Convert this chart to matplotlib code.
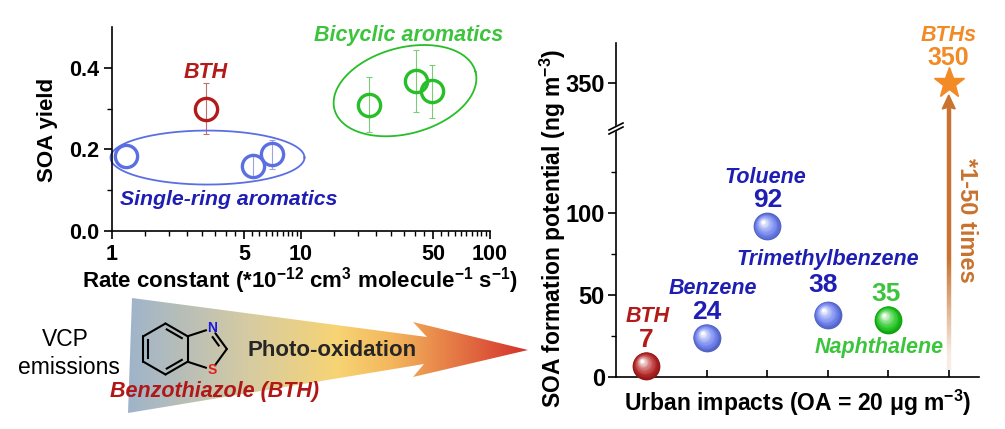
import numpy as np
import matplotlib
matplotlib.use("Agg")
import matplotlib.pyplot as plt
from matplotlib.patches import Polygon
from matplotlib.colors import LinearSegmentedColormap, to_rgb
from matplotlib.collections import LineCollection
from matplotlib.ticker import FixedLocator, NullFormatter, FixedFormatter
import matplotlib.transforms as mtransforms

plt.rcParams['font.family'] = ['Liberation Sans', 'DejaVu Sans']
plt.rcParams['font.weight'] = 'bold'
plt.rcParams['axes.labelweight'] = 'bold'
plt.rcParams['mathtext.default'] = 'regular'

# Daten links: SOA-Ausbeute vs. Geschwindigkeitskonstante
btH_rate = [3.13]
btH_yield = [0.30]
btH_err = [0.063]
single_rate = [1.19, 5.6, 7.0]
single_yield = [0.183, 0.159, 0.188]
single_err = [0.0, 0.027, 0.035]
bicyc_rate = [23.0, 40.6, 49.3]
bicyc_yield = [0.310, 0.367, 0.342]
bicyc_err = [0.067, 0.076, 0.066]

# Daten rechts: SOA-Bildungspotential
species = ['BTH', 'Benzene', 'Toluene', 'Trimethylbenzene', 'Naphthalene', 'BTHs']
sofp = [7, 24, 92, 38, 35, 350]
species_x = [1, 2, 3, 4, 5, 6]

RED = '#B31B1B'
BLUE_M = '#5B6FE3'
BLUE_T = '#1E1EB4'
GREEN_M = '#27BE27'
GREEN_T = '#3CC43C'
ORANGE = '#F28A26'
BROWN = '#C8732F'

W, H = 1005, 429
fig = plt.figure(figsize=(W / 100, H / 100), dpi=100)


def px_rect(x0, y0, x1, y1):
    return [x0 / W, 1 - y1 / H, (x1 - x0) / W, (y1 - y0) / H]


# ---------------- linker Plot ----------------
ax = fig.add_axes(px_rect(112, 27, 490, 231))
ax.set_xscale('log')
ax.set_xlim(1, 100)
ax.set_ylim(0, 0.5)
ax.spines[['top', 'right']].set_visible(False)
for s in ['left', 'bottom']:
    ax.spines[s].set_linewidth(1.2)
major_x = [1, 5, 10, 50, 100]
minor_x = [v for v in list(np.arange(1.5, 10, 0.5)) + list(np.arange(15, 100, 5)) if v not in major_x]
ax.xaxis.set_major_locator(FixedLocator(major_x))
ax.xaxis.set_major_formatter(FixedFormatter([str(v) for v in major_x]))
ax.xaxis.set_minor_locator(FixedLocator(minor_x))
ax.xaxis.set_minor_formatter(NullFormatter())
ax.set_yticks([0.0, 0.2, 0.4])
ax.set_yticklabels(['0.0', '0.2', '0.4'])
ax.set_yticks([0.1, 0.3], minor=True)
ax.tick_params(which='major', length=6, width=1.2, labelsize=15.5, pad=3)
ax.tick_params(which='minor', length=3.5, width=1.0)
fig.text(300 / W, 1 - 288 / H, 'Rate constant (*10$^{-12}$ cm$^{3}$ molecule$^{-1}$ s$^{-1}$)',
         fontsize=16, ha='center', va='baseline')
fig.text(47 / W, 1 - 130 / H, 'SOA yield', rotation=90, fontsize=16, ha='center', va='center')

ms = 16
for rx, ry, re, col, ecol in [(btH_rate, btH_yield, btH_err, RED, '#C07070'),
                              (single_rate, single_yield, single_err, BLUE_M, '#9AA5E8'),
                              (bicyc_rate, bicyc_yield, bicyc_err, GREEN_M, '#7ACC7A')]:
    rx, ry, re = np.array(rx), np.array(ry), np.array(re)
    has = re > 0
    ax.errorbar(rx[has], ry[has], yerr=re[has], fmt='none', ecolor=ecol, elinewidth=0.8,
                capsize=2.5, capthick=0.8)
    ax.plot(rx, ry, 'o', ms=ms, mfc='none', mec=col, mew=2.4)


def ring(ax, cx, cy, a, b, ang, color):
    # Ellipse in Pixeln um einen Datenpunkt
    t = np.linspace(0, 2 * np.pi, 200)
    th = np.deg2rad(ang)
    dx = a * np.cos(t) * np.cos(th) - b * np.sin(t) * np.sin(th)
    dy = a * np.cos(t) * np.sin(th) + b * np.sin(t) * np.cos(th)
    c = ax.transData.transform((cx, cy))
    pts = ax.transAxes.inverted().transform(np.column_stack([c[0] + dx, c[1] + dy]))
    ax.plot(pts[:, 0], pts[:, 1], color=color, lw=1.3, transform=ax.transAxes, clip_on=False)


ring(ax, 3.2, 0.18, 97, 27, 0, BLUE_M)
ring(ax, 35.5, 0.344, 73, 43, 15, GREEN_M)

ax.text(3.13, 0.388, 'BTH', color=RED, fontsize=15.5, style='italic', ha='center', va='center')
ax.text(4.16, 0.076, 'Single-ring aromatics', color=BLUE_T, fontsize=15.3, style='italic',
        ha='center', va='center')
ax.text(37, 0.48, 'Bicyclic aromatics', color=GREEN_T, fontsize=15.5, style='italic',
        ha='center', va='center', clip_on=False)

# ---------------- rechter Plot (gebrochene Achse) ----------------
px_per_unit = 1.637
axb = fig.add_axes(px_rect(616, 128, 979, 377))
axt = fig.add_axes(px_rect(616, 43, 979, 128))
axb.set_ylim(0, 249 / px_per_unit)
axt.set_ylim(350 - 45 / px_per_unit, 350 + 40 / px_per_unit)
for a_ in (axb, axt):
    a_.set_xlim(0.5, 6.5)
    a_.spines[['top', 'right']].set_visible(False)
    a_.spines['left'].set_linewidth(1.2)
    a_.patch.set_alpha(0)
axt.spines['bottom'].set_visible(False)
axb.spines['bottom'].set_linewidth(1.2)
axt.set_xticks([])
axt.set_yticks([350])
axb.set_xticks(species_x)
axb.set_xticklabels([])
axb.set_yticks([0, 50, 100])
axb.set_yticks([25, 75, 125], minor=True)
axb.tick_params(axis='x', direction='in', length=5, width=1.2)
for a_ in (axb, axt):
    a_.tick_params(axis='y', which='major', length=6, width=1.2, labelsize=17, pad=2)
    a_.tick_params(axis='y', which='minor', length=3.5, width=1.0)


def ball(ax, x, y, base, n=18, d=20):
    base = np.array(to_rgb(base))
    edge = base * 0.82
    hx, hy = -3.2, 3.4
    for k in range(n):
        t = k / (n - 1)
        col = edge * (1 - min(1, t * 3)) + base * min(1, t * 3)
        w = t ** 1.7
        col = col * (1 - w) + np.ones(3) * w
        size = (d * (1 - 0.9 * t)) ** 2
        tr = mtransforms.offset_copy(ax.transData, fig=fig, x=hx * t, y=hy * t, units='points')
        ax.scatter([x], [y], s=size, color=[col], lw=0, transform=tr, zorder=5 + k * 0.01,
                   clip_on=False)


ball_cols = [RED, '#6479EE', '#6479EE', '#6479EE', '#14C414']
for i in range(5):
    ball(axb, species_x[i], sofp[i], ball_cols[i])

axt.plot(species_x[5], sofp[5], marker='*', ms=23, color=ORANGE, mec=ORANGE, clip_on=False, zorder=6)

name_cols = [RED, BLUE_T, BLUE_T, BLUE_T, GREEN_T]
name_dy = [30, 30, 30, 34, -17]
name_dx = [0.03, 0.1, -0.03, 0.0, -0.15]
num_dy = [15.5, 16, 16, 18, 16]
num_dx = [0, 0, 0, -0.08, -0.03]
for i in range(5):
    axb.text(species_x[i] + name_dx[i], sofp[i] + name_dy[i], species[i], color=name_cols[i],
             fontsize=15.5, style='italic', ha='center', va='center', clip_on=False)
    axb.text(species_x[i] + num_dx[i], sofp[i] + num_dy[i], str(sofp[i]), color=name_cols[i],
             fontsize=19, ha='center', va='center', clip_on=False)
axt.text(species_x[5], sofp[5] + 29, species[5], color=ORANGE, fontsize=15.5, style='italic',
         ha='center', va='center', clip_on=False)
axt.text(species_x[5], sofp[5] + 15, str(sofp[5]), color=ORANGE, fontsize=18,
         ha='center', va='center', clip_on=False)

fig.text(553 / W, 1 - 228 / H, 'SOA formation potential (ng m$^{-3}$)', rotation=90,
         fontsize=16.5, ha='center', va='center')
fig.text(798 / W, 1 - 403 / H, 'Urban impacts (OA = 20 \u03bcg m$^{-3}$)', fontsize=16.5,
         ha='center', va='center')

# ---------------- Overlay in Pixelkoordinaten ----------------
ov = fig.add_axes([0, 0, 1, 1])
ov.set_xlim(0, W)
ov.set_ylim(H, 0)
ov.axis('off')
ov.patch.set_alpha(0)


def to_px(a_, x, y):
    d = a_.transData.transform((x, y))
    return d[0], H - d[1]


# Achsenbruch
bx, by = to_px(axb, 0.5, 249 / px_per_unit)
ov.add_patch(Polygon([[bx - 7, by + 2], [bx + 7, by - 5], [bx + 7, by - 1], [bx - 7, by + 6]],
                     closed=True, color='white', zorder=10))
for off in (2, 6):
    ov.plot([bx - 7, bx + 7], [by + off, by + off - 7], color='black', lw=1.2, zorder=11)

# Pfeil "*1-50 times"
ax6, ay_top = to_px(axt, 6, 350)
_, ay_bot = to_px(axb, 6, 4)
y_head = ay_top + 14
ys = np.linspace(ay_bot, y_head + 10, 80)
segs = [[[ax6, ys[i]], [ax6, ys[i + 1]]] for i in range(len(ys) - 1)]
alph = np.clip((ay_bot - ys[:-1]) / 110, 0.12, 1.0)
cols = [(*to_rgb(BROWN), a_) for a_ in alph]
ov.add_collection(LineCollection(segs, colors=cols, linewidths=3.2, zorder=8))
ov.add_patch(Polygon([[ax6, y_head - 2], [ax6 - 6.5, y_head + 12], [ax6, y_head + 10],
                      [ax6 + 6.5, y_head + 12]], closed=True, color=BROWN, zorder=8))
ov.text(966, 220, '*1-50 times', rotation=-90, color=BROWN, fontsize=17,
        ha='center', va='center')

# Verlaufspfeil unten links
arrow = Polygon([[132, 298], [427, 337], [413, 322], [528, 350], [413, 377], [424, 364],
                 [128, 413]], closed=True, fc='none', ec='none')
ov.add_patch(arrow)
grad = LinearSegmentedColormap.from_list('g', [(0.0, '#9FB4CA'), (0.3, '#D6CBA2'),
                                               (0.52, '#F7D474'), (0.66, '#F3B65C'),
                                               (0.78, '#E8864A'), (1.0, '#D2302A')])
img = ov.imshow(np.linspace(0, 1, 256)[None, :], cmap=grad, aspect='auto',
                extent=(128, 530, 413, 297), zorder=2)
img.set_clip_path(arrow)
ov.set_xlim(0, W)
ov.set_ylim(H, 0)

ov.text(65, 340, 'VCP', fontsize=16.5, fontweight='normal', ha='center', va='center')
ov.text(69, 367, 'emissions', fontsize=16.5, fontweight='normal', ha='center', va='center')
ov.text(332, 350, 'Photo-oxidation', fontsize=16, color='#262626', ha='center', va='center', zorder=5)
ov.text(214, 392, 'Benzothiazole (BTH)', fontsize=15.5, style='italic', color='#B01818',
        ha='center', va='center', zorder=5)

# Benzothiazol-Struktur
cx, cy, r = 165.5, 349, 25.5
angs = np.deg2rad([90, 30, -30, -90, -150, 150])
hexv = np.column_stack([cx + r * np.cos(angs), cy - r * np.sin(angs)])
pc_x = hexv[1, 0] + r / (2 * np.tan(np.deg2rad(36)))
R5 = r / (2 * np.sin(np.deg2rad(36)))
N_pt = np.array([pc_x + R5 * np.cos(np.deg2rad(72)), cy - R5 * np.sin(np.deg2rad(72))])
C2_pt = np.array([pc_x + R5, cy])
S_pt = np.array([pc_x + R5 * np.cos(np.deg2rad(-72)), cy - R5 * np.sin(np.deg2rad(-72))])


def bond(p, q, trim_p=0, trim_q=0):
    p, q = np.array(p), np.array(q)
    u = (q - p) / np.linalg.norm(q - p)
    p2, q2 = p + u * trim_p, q - u * trim_q
    ov.plot([p2[0], q2[0]], [p2[1], q2[1]], color='black', lw=1.5, solid_capstyle='round', zorder=6)


def inner(p, q, c, off=4.5, shrink=0.16):
    p, q, c = np.array(p), np.array(q), np.array(c)
    m = (p + q) / 2
    n = c - m
    n = n / np.linalg.norm(n) * off
    p2 = p + (q - p) * shrink + n
    q2 = q - (q - p) * shrink + n
    ov.plot([p2[0], q2[0]], [p2[1], q2[1]], color='black', lw=1.5, zorder=6)


for i in range(6):
    bond(hexv[i], hexv[(i + 1) % 6])
for i in (0, 2, 4):
    inner(hexv[i], hexv[(i + 1) % 6], (cx, cy))
bond(hexv[1], N_pt, 0, 6)
bond(N_pt, C2_pt, 6, 0)
bond(C2_pt, S_pt, 0, 6)
bond(S_pt, hexv[2], 6, 0)
inner(N_pt, C2_pt, (pc_x, cy), off=4.5, shrink=0.3)
ov.text(N_pt[0], N_pt[1], 'N', color='#1A1AE0', fontsize=10, ha='center', va='center', zorder=7)
ov.text(S_pt[0], S_pt[1], 'S', color='#E02020', fontsize=10, ha='center', va='center', zorder=7)

fig.savefig('out.png', dpi=100)
